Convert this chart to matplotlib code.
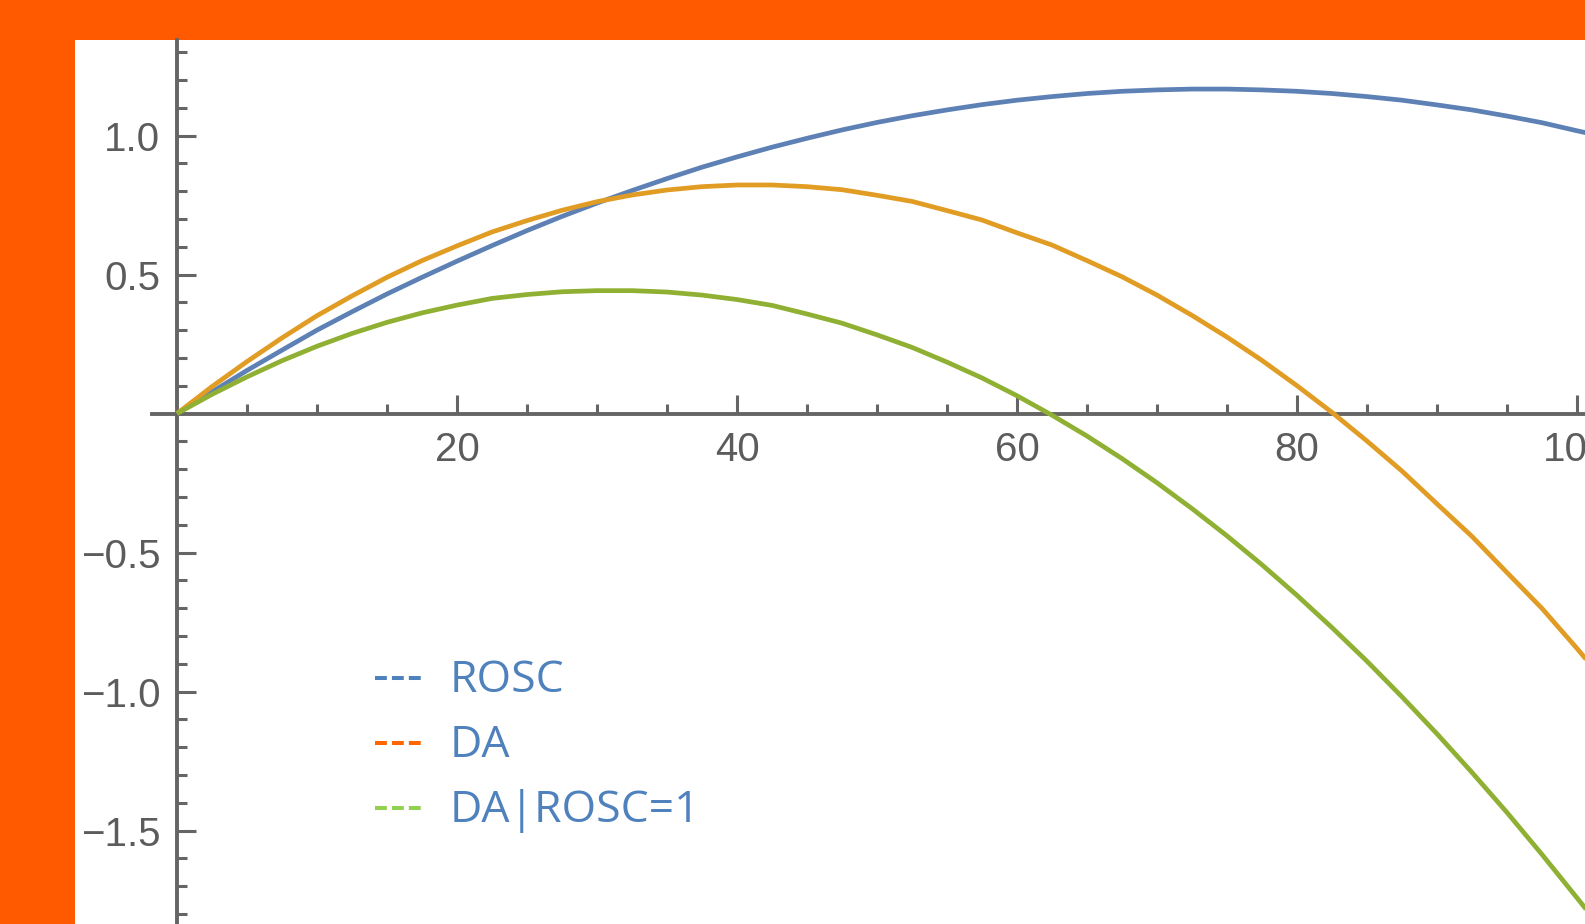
import numpy as np
import matplotlib
matplotlib.use("Agg")
import matplotlib.pyplot as plt
from matplotlib.lines import Line2D
from matplotlib.ticker import FixedLocator


# time axis and the three response curves
x = [0, 2.5, 5, 7.5, 10, 12.5, 15, 17.5, 20, 22.5, 25, 27.5, 30, 32.5, 35, 37.5,
     40, 42.5, 45, 47.5, 50, 52.5, 55, 57.5, 60, 62.5, 65, 67.5, 70, 72.5, 75,
     77.5, 80, 82.5, 85, 87.5, 90, 92.5, 95, 97.5, 100, 101]
rosc = [0.0, 0.078, 0.155, 0.228, 0.300, 0.366, 0.430, 0.490, 0.548, 0.604, 0.658,
        0.709, 0.757, 0.802, 0.845, 0.886, 0.923, 0.958, 0.990, 1.020, 1.047, 1.071,
        1.092, 1.111, 1.127, 1.140, 1.151, 1.159, 1.164, 1.167, 1.167, 1.164, 1.159,
        1.151, 1.140, 1.127, 1.110, 1.092, 1.070, 1.046, 1.017, 1.006]
da = [0.0, 0.097, 0.187, 0.272, 0.352, 0.423, 0.490, 0.550, 0.603, 0.653, 0.694,
      0.731, 0.762, 0.786, 0.804, 0.816, 0.822, 0.822, 0.816, 0.805, 0.785, 0.763,
      0.730, 0.696, 0.650, 0.606, 0.550, 0.492, 0.426, 0.353, 0.275, 0.191, 0.100,
      0.004, -0.099, -0.207, -0.325, -0.442, -0.572, -0.701, -0.845, -0.905]
da_rosc1 = [0.0, 0.069, 0.132, 0.190, 0.242, 0.288, 0.328, 0.362, 0.390, 0.414, 0.428,
            0.438, 0.442, 0.442, 0.437, 0.426, 0.410, 0.389, 0.358, 0.325, 0.283, 0.238,
            0.185, 0.128, 0.064, -0.006, -0.081, -0.162, -0.249, -0.342, -0.440, -0.544,
            -0.654, -0.770, -0.891, -1.019, -1.152, -1.291, -1.435, -1.586, -1.742, -1.805]

x_major = [20, 40, 60, 80, 100]
x_labels = ["20", "40", "60", "80", "100"]
y_major = [-1.5, -1.0, -0.5, 0.5, 1.0]
y_labels = ["\u22121.5", "\u22121.0", "\u22120.5", "0.5", "1.0"]

legend_names = ["ROSC", "DA", "DA|ROSC=1"]

W, H = 1585, 924
FRAME = "#FF5A00"
AXIS_GREY = "#656565"
LINE_COLORS = ["#5E81B5", "#E19C24", "#8FB032"]
KEY_COLORS = ["#4F81BD", "#FF6600", "#92D050"]
TEXT_BLUE = "#4F81BD"

fig = plt.figure(figsize=(W / 100, H / 100), dpi=100, facecolor=FRAME)
# white plotting panel inside the orange frame
ax = fig.add_axes([75 / W, 0, (W - 75) / W, (H - 40) / H])
ax.set_facecolor("white")

for series, color in zip([rosc, da, da_rosc1], LINE_COLORS):
    ax.plot(x, series, color=color, lw=3.4, solid_capstyle="butt",
            solid_joinstyle="round")

ax.set_xlim(-7.286, 100.571)
ax.set_ylim(-1.836, 1.3435)

# axes crossing at the origin
for side in ["top", "right"]:
    ax.spines[side].set_visible(False)
ax.spines["left"].set_position(("data", 0))
ax.spines["bottom"].set_position(("data", 0))
ax.spines["bottom"].set_bounds(-1.8, 100.571)
for side in ["left", "bottom"]:
    ax.spines[side].set_color(AXIS_GREY)
    ax.spines[side].set_linewidth(2.8)
    ax.spines[side].set_zorder(1)

ax.xaxis.set_major_locator(FixedLocator(x_major))
ax.xaxis.set_minor_locator(FixedLocator([v for v in range(5, 101, 5) if v % 20]))
ax.set_xticklabels(x_labels)
ax.yaxis.set_major_locator(FixedLocator(y_major))
y_minor = [v / 10 for v in range(-18, 14) if v % 5]
ax.yaxis.set_minor_locator(FixedLocator(y_minor))
ax.set_yticklabels(y_labels)

ax.tick_params(which="both", direction="in", color=AXIS_GREY, width=2.2,
               labelcolor="#5c5c5c", labelsize=29)
ax.tick_params(which="major", length=13.5)
ax.tick_params(which="minor", length=7)
ax.tick_params(axis="x", pad=12.5)
ax.tick_params(axis="y", pad=12)
for lab in ax.get_xticklabels() + ax.get_yticklabels():
    lab.set_family("Liberation Sans")

# hand-drawn key: short dashed strokes and blue captions
baselines = [692, 757, 822]
for name, color, base in zip(legend_names, KEY_COLORS, baselines):
    yk = 1 - (base - 14) / H
    fig.add_artist(Line2D([375 / W, 421 / W], [yk, yk], transform=fig.transFigure,
                          color=color, lw=2.9, linestyle=(0, (2.95, 1.25)),
                          dash_capstyle="butt"))
    fig.text(450 / W, 1 - base / H, name, color=TEXT_BLUE, fontsize=32,
             family="Open Sans", va="baseline", ha="left")

fig.savefig("out.png", dpi=100, facecolor=FRAME)
